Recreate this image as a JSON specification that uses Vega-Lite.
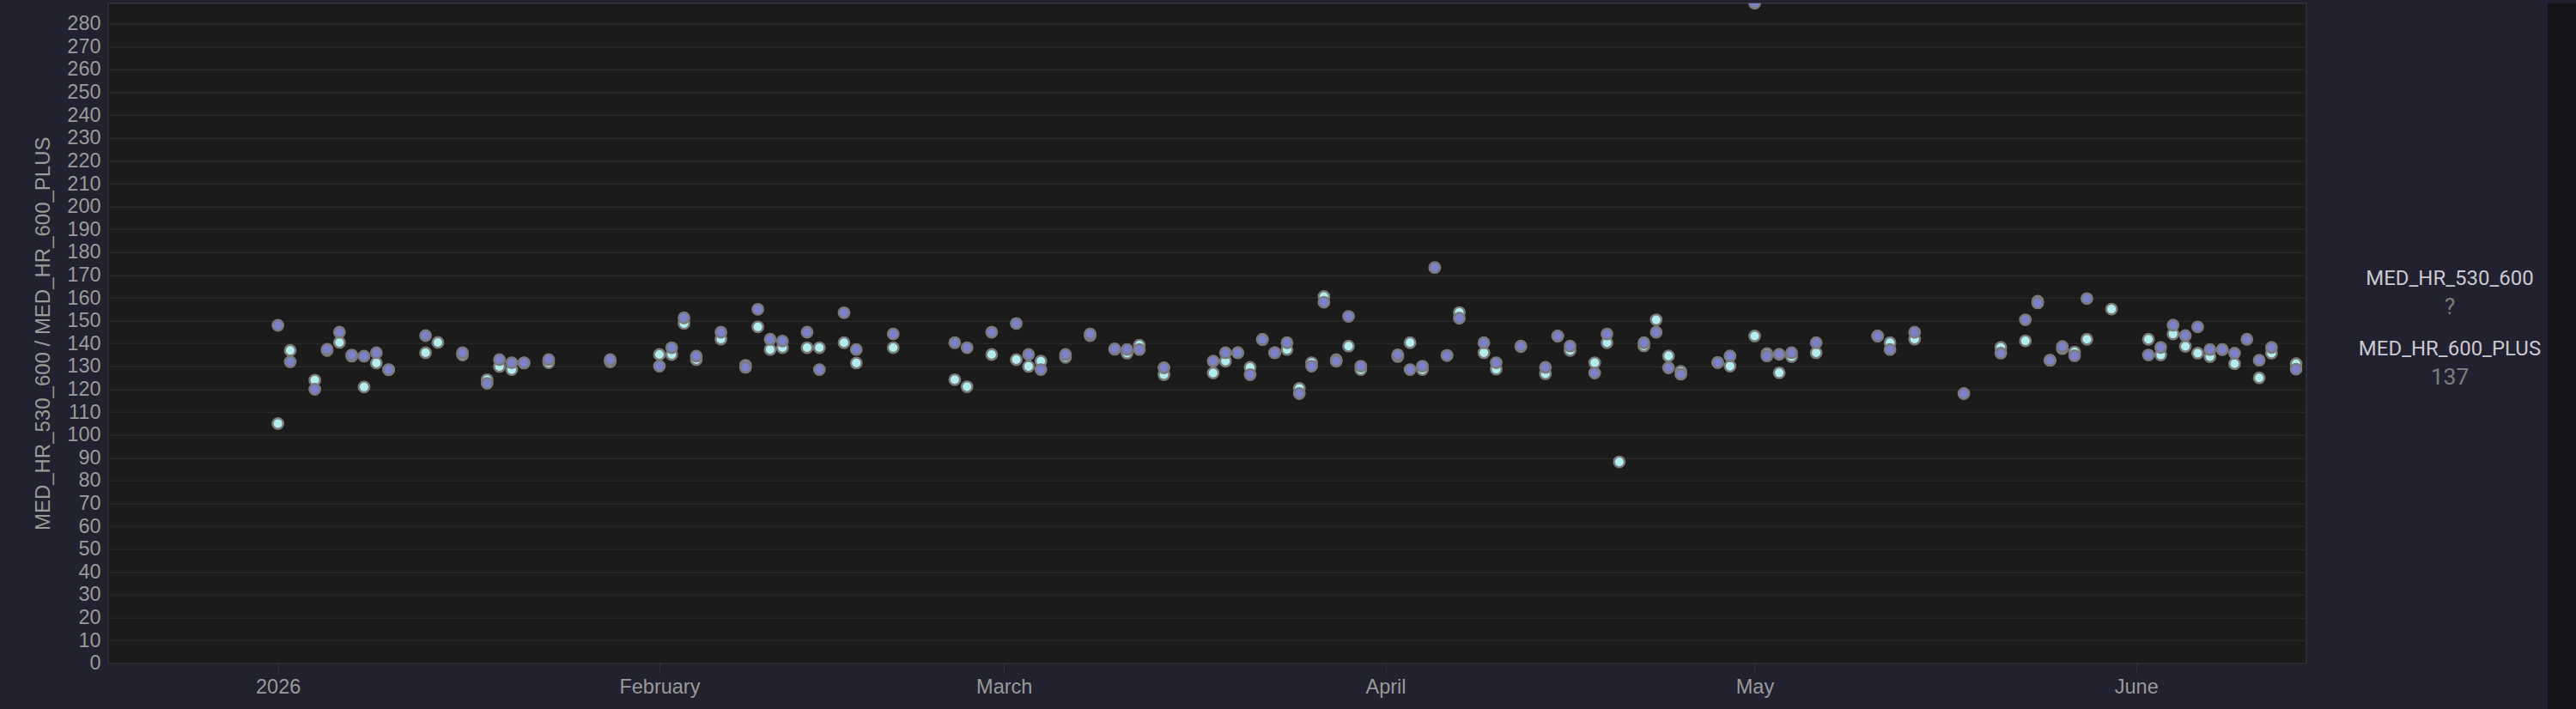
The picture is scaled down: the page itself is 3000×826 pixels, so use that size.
{
  "$schema": "https://vega.github.io/schema/vega-lite/v6.json",
  "background": "#22212f",
  "padding": {"left": 38, "top": 2.8, "right": 0, "bottom": 0},
  "autosize": {"type": "pad"},
  "spacing": 0,
  "datasets": {
    "hr": [
      {"date": "2026-01-01", "series": "MED_HR_530_600", "value": 105},
      {"date": "2026-01-02", "series": "MED_HR_530_600", "value": 137},
      {"date": "2026-01-04", "series": "MED_HR_530_600", "value": 124},
      {"date": "2026-01-05", "series": "MED_HR_530_600", "value": 137},
      {"date": "2026-01-06", "series": "MED_HR_530_600", "value": 140.5},
      {"date": "2026-01-07", "series": "MED_HR_530_600", "value": 134.5},
      {"date": "2026-01-08", "series": "MED_HR_530_600", "value": 121},
      {"date": "2026-01-09", "series": "MED_HR_530_600", "value": 131.5},
      {"date": "2026-01-10", "series": "MED_HR_530_600", "value": 128.5},
      {"date": "2026-01-13", "series": "MED_HR_530_600", "value": 136},
      {"date": "2026-01-14", "series": "MED_HR_530_600", "value": 140.5},
      {"date": "2026-01-16", "series": "MED_HR_530_600", "value": 135},
      {"date": "2026-01-18", "series": "MED_HR_530_600", "value": 124.2},
      {"date": "2026-01-19", "series": "MED_HR_530_600", "value": 130},
      {"date": "2026-01-20", "series": "MED_HR_530_600", "value": 128.6},
      {"date": "2026-01-21", "series": "MED_HR_530_600", "value": 131.5},
      {"date": "2026-01-23", "series": "MED_HR_530_600", "value": 131.6},
      {"date": "2026-01-28", "series": "MED_HR_530_600", "value": 132},
      {"date": "2026-02-01", "series": "MED_HR_530_600", "value": 135.2},
      {"date": "2026-02-02", "series": "MED_HR_530_600", "value": 135.2},
      {"date": "2026-02-03", "series": "MED_HR_530_600", "value": 148.8},
      {"date": "2026-02-04", "series": "MED_HR_530_600", "value": 133},
      {"date": "2026-02-06", "series": "MED_HR_530_600", "value": 142},
      {"date": "2026-02-08", "series": "MED_HR_530_600", "value": 130.5},
      {"date": "2026-02-09", "series": "MED_HR_530_600", "value": 147.3},
      {"date": "2026-02-10", "series": "MED_HR_530_600", "value": 137.4},
      {"date": "2026-02-11", "series": "MED_HR_530_600", "value": 138.2},
      {"date": "2026-02-13", "series": "MED_HR_530_600", "value": 138.2},
      {"date": "2026-02-14", "series": "MED_HR_530_600", "value": 138.2},
      {"date": "2026-02-16", "series": "MED_HR_530_600", "value": 140.4},
      {"date": "2026-02-17", "series": "MED_HR_530_600", "value": 131.5},
      {"date": "2026-02-20", "series": "MED_HR_530_600", "value": 138.2},
      {"date": "2026-02-25", "series": "MED_HR_530_600", "value": 124.2},
      {"date": "2026-02-26", "series": "MED_HR_530_600", "value": 121.1},
      {"date": "2026-02-28", "series": "MED_HR_530_600", "value": 135.2},
      {"date": "2026-03-02", "series": "MED_HR_530_600", "value": 133},
      {"date": "2026-03-03", "series": "MED_HR_530_600", "value": 130},
      {"date": "2026-03-04", "series": "MED_HR_530_600", "value": 132.3},
      {"date": "2026-03-06", "series": "MED_HR_530_600", "value": 134},
      {"date": "2026-03-08", "series": "MED_HR_530_600", "value": 143.5},
      {"date": "2026-03-10", "series": "MED_HR_530_600", "value": 137.5},
      {"date": "2026-03-11", "series": "MED_HR_530_600", "value": 135.8},
      {"date": "2026-03-12", "series": "MED_HR_530_600", "value": 139.3},
      {"date": "2026-03-14", "series": "MED_HR_530_600", "value": 126.4},
      {"date": "2026-03-18", "series": "MED_HR_530_600", "value": 127.1},
      {"date": "2026-03-19", "series": "MED_HR_530_600", "value": 132.3},
      {"date": "2026-03-20", "series": "MED_HR_530_600", "value": 136},
      {"date": "2026-03-21", "series": "MED_HR_530_600", "value": 129.6},
      {"date": "2026-03-22", "series": "MED_HR_530_600", "value": 141.8},
      {"date": "2026-03-23", "series": "MED_HR_530_600", "value": 136},
      {"date": "2026-03-24", "series": "MED_HR_530_600", "value": 137.4},
      {"date": "2026-03-25", "series": "MED_HR_530_600", "value": 120.4},
      {"date": "2026-03-26", "series": "MED_HR_530_600", "value": 131.6},
      {"date": "2026-03-27", "series": "MED_HR_530_600", "value": 160.6},
      {"date": "2026-03-28", "series": "MED_HR_530_600", "value": 133},
      {"date": "2026-03-29", "series": "MED_HR_530_600", "value": 138.9},
      {"date": "2026-03-30", "series": "MED_HR_530_600", "value": 128.6},
      {"date": "2026-04-02", "series": "MED_HR_530_600", "value": 134.3},
      {"date": "2026-04-03", "series": "MED_HR_530_600", "value": 140.4},
      {"date": "2026-04-04", "series": "MED_HR_530_600", "value": 128.6},
      {"date": "2026-04-06", "series": "MED_HR_530_600", "value": 134.8},
      {"date": "2026-04-07", "series": "MED_HR_530_600", "value": 153.6},
      {"date": "2026-04-09", "series": "MED_HR_530_600", "value": 136},
      {"date": "2026-04-10", "series": "MED_HR_530_600", "value": 128.8},
      {"date": "2026-04-12", "series": "MED_HR_530_600", "value": 138.7},
      {"date": "2026-04-14", "series": "MED_HR_530_600", "value": 126.8},
      {"date": "2026-04-15", "series": "MED_HR_530_600", "value": 143.3},
      {"date": "2026-04-16", "series": "MED_HR_530_600", "value": 137},
      {"date": "2026-04-18", "series": "MED_HR_530_600", "value": 131.6},
      {"date": "2026-04-19", "series": "MED_HR_530_600", "value": 140.4},
      {"date": "2026-04-20", "series": "MED_HR_530_600", "value": 88.2},
      {"date": "2026-04-22", "series": "MED_HR_530_600", "value": 139},
      {"date": "2026-04-23", "series": "MED_HR_530_600", "value": 150.4},
      {"date": "2026-04-24", "series": "MED_HR_530_600", "value": 134.6},
      {"date": "2026-04-25", "series": "MED_HR_530_600", "value": 127.8},
      {"date": "2026-04-28", "series": "MED_HR_530_600", "value": 131.7},
      {"date": "2026-04-29", "series": "MED_HR_530_600", "value": 130.1},
      {"date": "2026-05-01", "series": "MED_HR_530_600", "value": 143.3},
      {"date": "2026-05-02", "series": "MED_HR_530_600", "value": 135.6},
      {"date": "2026-05-03", "series": "MED_HR_530_600", "value": 127.2},
      {"date": "2026-05-04", "series": "MED_HR_530_600", "value": 134.3},
      {"date": "2026-05-06", "series": "MED_HR_530_600", "value": 136},
      {"date": "2026-05-11", "series": "MED_HR_530_600", "value": 143.3},
      {"date": "2026-05-12", "series": "MED_HR_530_600", "value": 140.4},
      {"date": "2026-05-14", "series": "MED_HR_530_600", "value": 142},
      {"date": "2026-05-21", "series": "MED_HR_530_600", "value": 138.3},
      {"date": "2026-05-23", "series": "MED_HR_530_600", "value": 141.2},
      {"date": "2026-05-24", "series": "MED_HR_530_600", "value": 158.5},
      {"date": "2026-05-25", "series": "MED_HR_530_600", "value": 132.7},
      {"date": "2026-05-26", "series": "MED_HR_530_600", "value": 137.8},
      {"date": "2026-05-27", "series": "MED_HR_530_600", "value": 136.3},
      {"date": "2026-05-28", "series": "MED_HR_530_600", "value": 141.9},
      {"date": "2026-05-30", "series": "MED_HR_530_600", "value": 155.1},
      {"date": "2026-06-02", "series": "MED_HR_530_600", "value": 141.9},
      {"date": "2026-06-03", "series": "MED_HR_530_600", "value": 135},
      {"date": "2026-06-04", "series": "MED_HR_530_600", "value": 144.2},
      {"date": "2026-06-05", "series": "MED_HR_530_600", "value": 138.8},
      {"date": "2026-06-06", "series": "MED_HR_530_600", "value": 135.8},
      {"date": "2026-06-07", "series": "MED_HR_530_600", "value": 134.3},
      {"date": "2026-06-08", "series": "MED_HR_530_600", "value": 137.4},
      {"date": "2026-06-09", "series": "MED_HR_530_600", "value": 131.2},
      {"date": "2026-06-11", "series": "MED_HR_530_600", "value": 125},
      {"date": "2026-06-12", "series": "MED_HR_530_600", "value": 135.8},
      {"date": "2026-06-14", "series": "MED_HR_530_600", "value": 131.2},
      {"date": "2026-01-01", "series": "MED_HR_600_PLUS", "value": 148},
      {"date": "2026-01-02", "series": "MED_HR_600_PLUS", "value": 132},
      {"date": "2026-01-04", "series": "MED_HR_600_PLUS", "value": 120},
      {"date": "2026-01-05", "series": "MED_HR_600_PLUS", "value": 137.5},
      {"date": "2026-01-06", "series": "MED_HR_600_PLUS", "value": 145},
      {"date": "2026-01-07", "series": "MED_HR_600_PLUS", "value": 135},
      {"date": "2026-01-08", "series": "MED_HR_600_PLUS", "value": 134.5},
      {"date": "2026-01-09", "series": "MED_HR_600_PLUS", "value": 136},
      {"date": "2026-01-10", "series": "MED_HR_600_PLUS", "value": 128.6},
      {"date": "2026-01-13", "series": "MED_HR_600_PLUS", "value": 143.5},
      {"date": "2026-01-16", "series": "MED_HR_600_PLUS", "value": 136},
      {"date": "2026-01-18", "series": "MED_HR_600_PLUS", "value": 122.6},
      {"date": "2026-01-19", "series": "MED_HR_600_PLUS", "value": 133},
      {"date": "2026-01-20", "series": "MED_HR_600_PLUS", "value": 131.6},
      {"date": "2026-01-21", "series": "MED_HR_600_PLUS", "value": 131.6},
      {"date": "2026-01-23", "series": "MED_HR_600_PLUS", "value": 133},
      {"date": "2026-01-28", "series": "MED_HR_600_PLUS", "value": 133},
      {"date": "2026-02-01", "series": "MED_HR_600_PLUS", "value": 130.1},
      {"date": "2026-02-02", "series": "MED_HR_600_PLUS", "value": 138.2},
      {"date": "2026-02-03", "series": "MED_HR_600_PLUS", "value": 151.3},
      {"date": "2026-02-04", "series": "MED_HR_600_PLUS", "value": 134.5},
      {"date": "2026-02-06", "series": "MED_HR_600_PLUS", "value": 145},
      {"date": "2026-02-08", "series": "MED_HR_600_PLUS", "value": 129.6},
      {"date": "2026-02-09", "series": "MED_HR_600_PLUS", "value": 155},
      {"date": "2026-02-10", "series": "MED_HR_600_PLUS", "value": 141.9},
      {"date": "2026-02-11", "series": "MED_HR_600_PLUS", "value": 141.1},
      {"date": "2026-02-13", "series": "MED_HR_600_PLUS", "value": 145},
      {"date": "2026-02-14", "series": "MED_HR_600_PLUS", "value": 128.6},
      {"date": "2026-02-16", "series": "MED_HR_600_PLUS", "value": 153.5},
      {"date": "2026-02-17", "series": "MED_HR_600_PLUS", "value": 137.4},
      {"date": "2026-02-20", "series": "MED_HR_600_PLUS", "value": 144.2},
      {"date": "2026-02-25", "series": "MED_HR_600_PLUS", "value": 140.4},
      {"date": "2026-02-26", "series": "MED_HR_600_PLUS", "value": 138.2},
      {"date": "2026-02-28", "series": "MED_HR_600_PLUS", "value": 145},
      {"date": "2026-03-02", "series": "MED_HR_600_PLUS", "value": 148.8},
      {"date": "2026-03-03", "series": "MED_HR_600_PLUS", "value": 135.2},
      {"date": "2026-03-04", "series": "MED_HR_600_PLUS", "value": 128.6},
      {"date": "2026-03-06", "series": "MED_HR_600_PLUS", "value": 135.2},
      {"date": "2026-03-08", "series": "MED_HR_600_PLUS", "value": 144.2},
      {"date": "2026-03-10", "series": "MED_HR_600_PLUS", "value": 137.7},
      {"date": "2026-03-11", "series": "MED_HR_600_PLUS", "value": 137.4},
      {"date": "2026-03-12", "series": "MED_HR_600_PLUS", "value": 137.4},
      {"date": "2026-03-14", "series": "MED_HR_600_PLUS", "value": 129.4},
      {"date": "2026-03-18", "series": "MED_HR_600_PLUS", "value": 132.3},
      {"date": "2026-03-19", "series": "MED_HR_600_PLUS", "value": 136},
      {"date": "2026-03-20", "series": "MED_HR_600_PLUS", "value": 136},
      {"date": "2026-03-21", "series": "MED_HR_600_PLUS", "value": 126.4},
      {"date": "2026-03-22", "series": "MED_HR_600_PLUS", "value": 141.8},
      {"date": "2026-03-23", "series": "MED_HR_600_PLUS", "value": 136},
      {"date": "2026-03-24", "series": "MED_HR_600_PLUS", "value": 140.4},
      {"date": "2026-03-25", "series": "MED_HR_600_PLUS", "value": 118.1},
      {"date": "2026-03-26", "series": "MED_HR_600_PLUS", "value": 130.1},
      {"date": "2026-03-27", "series": "MED_HR_600_PLUS", "value": 158.1},
      {"date": "2026-03-28", "series": "MED_HR_600_PLUS", "value": 132.3},
      {"date": "2026-03-29", "series": "MED_HR_600_PLUS", "value": 151.9},
      {"date": "2026-03-30", "series": "MED_HR_600_PLUS", "value": 130.1},
      {"date": "2026-04-02", "series": "MED_HR_600_PLUS", "value": 135.1},
      {"date": "2026-04-03", "series": "MED_HR_600_PLUS", "value": 128.6},
      {"date": "2026-04-04", "series": "MED_HR_600_PLUS", "value": 130.1},
      {"date": "2026-04-05", "series": "MED_HR_600_PLUS", "value": 173.3},
      {"date": "2026-04-06", "series": "MED_HR_600_PLUS", "value": 134.8},
      {"date": "2026-04-07", "series": "MED_HR_600_PLUS", "value": 151.1},
      {"date": "2026-04-09", "series": "MED_HR_600_PLUS", "value": 140.4},
      {"date": "2026-04-10", "series": "MED_HR_600_PLUS", "value": 131.6},
      {"date": "2026-04-12", "series": "MED_HR_600_PLUS", "value": 138.9},
      {"date": "2026-04-14", "series": "MED_HR_600_PLUS", "value": 129.6},
      {"date": "2026-04-15", "series": "MED_HR_600_PLUS", "value": 143.3},
      {"date": "2026-04-16", "series": "MED_HR_600_PLUS", "value": 138.9},
      {"date": "2026-04-18", "series": "MED_HR_600_PLUS", "value": 127.1},
      {"date": "2026-04-19", "series": "MED_HR_600_PLUS", "value": 144.2},
      {"date": "2026-04-22", "series": "MED_HR_600_PLUS", "value": 140.4},
      {"date": "2026-04-23", "series": "MED_HR_600_PLUS", "value": 145},
      {"date": "2026-04-24", "series": "MED_HR_600_PLUS", "value": 129.4},
      {"date": "2026-04-25", "series": "MED_HR_600_PLUS", "value": 126.6},
      {"date": "2026-04-28", "series": "MED_HR_600_PLUS", "value": 131.7},
      {"date": "2026-04-29", "series": "MED_HR_600_PLUS", "value": 134.6},
      {"date": "2026-05-01", "series": "MED_HR_600_PLUS", "value": 289},
      {"date": "2026-05-02", "series": "MED_HR_600_PLUS", "value": 134.6},
      {"date": "2026-05-03", "series": "MED_HR_600_PLUS", "value": 135.3},
      {"date": "2026-05-04", "series": "MED_HR_600_PLUS", "value": 136},
      {"date": "2026-05-06", "series": "MED_HR_600_PLUS", "value": 140.4},
      {"date": "2026-05-11", "series": "MED_HR_600_PLUS", "value": 143.3},
      {"date": "2026-05-12", "series": "MED_HR_600_PLUS", "value": 137.4},
      {"date": "2026-05-14", "series": "MED_HR_600_PLUS", "value": 145},
      {"date": "2026-05-18", "series": "MED_HR_600_PLUS", "value": 118.1},
      {"date": "2026-05-21", "series": "MED_HR_600_PLUS", "value": 135.8},
      {"date": "2026-05-23", "series": "MED_HR_600_PLUS", "value": 150.4},
      {"date": "2026-05-24", "series": "MED_HR_600_PLUS", "value": 157.8},
      {"date": "2026-05-25", "series": "MED_HR_600_PLUS", "value": 132.7},
      {"date": "2026-05-26", "series": "MED_HR_600_PLUS", "value": 138.7},
      {"date": "2026-05-27", "series": "MED_HR_600_PLUS", "value": 134.7},
      {"date": "2026-05-28", "series": "MED_HR_600_PLUS", "value": 159.7},
      {"date": "2026-06-02", "series": "MED_HR_600_PLUS", "value": 135},
      {"date": "2026-06-03", "series": "MED_HR_600_PLUS", "value": 138.3},
      {"date": "2026-06-04", "series": "MED_HR_600_PLUS", "value": 148.1},
      {"date": "2026-06-05", "series": "MED_HR_600_PLUS", "value": 143.5},
      {"date": "2026-06-06", "series": "MED_HR_600_PLUS", "value": 147.3},
      {"date": "2026-06-07", "series": "MED_HR_600_PLUS", "value": 137.4},
      {"date": "2026-06-08", "series": "MED_HR_600_PLUS", "value": 137.4},
      {"date": "2026-06-09", "series": "MED_HR_600_PLUS", "value": 135.8},
      {"date": "2026-06-10", "series": "MED_HR_600_PLUS", "value": 141.9},
      {"date": "2026-06-11", "series": "MED_HR_600_PLUS", "value": 132.7},
      {"date": "2026-06-12", "series": "MED_HR_600_PLUS", "value": 138.3},
      {"date": "2026-06-14", "series": "MED_HR_600_PLUS", "value": 128.8}
    ],
    "legendRows": [
      {"series": "MED_HR_530_600", "latest": "?"},
      {"series": "MED_HR_600_PLUS", "latest": "137"}
    ],
    "strip": [{"k": ""}]
  },
  "hconcat": [
    {
      "width": 2560,
      "height": 769,
      "data": {"name": "hr"},
      "view": {"fill": "#1b1b1b", "stroke": "#34333d", "strokeWidth": 1.5},
      "mark": {"type": "point", "filled": true, "size": 155, "stroke": "#7a7a7a", "strokeWidth": 2.4, "opacity": 1, "clip": true},
      "encoding": {
        "x": {
          "field": "date",
          "type": "temporal",
          "scale": {
            "type": "utc",
            "domain": [
              {"year": 2025, "month": 12, "date": 18, "hours": 5, "utc": true},
              {"year": 2026, "month": 6, "date": 14, "hours": 20, "utc": true}
            ]
          },
          "axis": {
            "title": null,
            "grid": false,
            "domain": false,
            "tickCount": {"interval": "month", "step": 1},
            "ticks": true,
            "tickSize": 12,
            "tickColor": "#302f3c",
            "tickWidth": 1,
            "labelFont": "Liberation Sans",
            "labelFontSize": 23.5,
            "labelColor": "#9a9a9a",
            "labelPadding": 4,
            "labelFlush": false
          }
        },
        "y": {
          "field": "value",
          "type": "quantitative",
          "scale": {"domain": [0, 289], "nice": false},
          "axis": {
            "title": "MED_HR_530_600 / MED_HR_600_PLUS",
            "titleFont": "Liberation Sans",
            "titleFontSize": 24,
            "titleFontWeight": "normal",
            "titleColor": "#9a9a9a",
            "titlePadding": 15,
            "values": [0, 10, 20, 30, 40, 50, 60, 70, 80, 90, 100, 110, 120, 130, 140, 150, 160, 170, 180, 190, 200, 210, 220, 230, 240, 250, 260, 270, 280],
            "grid": true,
            "gridColor": "#272727",
            "gridWidth": 1.5,
            "ticks": false,
            "domain": false,
            "labelFont": "Liberation Sans",
            "labelFontSize": 23.5,
            "labelColor": "#9a9a9a",
            "labelPadding": 9
          }
        },
        "color": {
          "field": "series",
          "type": "nominal",
          "scale": {"domain": ["MED_HR_530_600", "MED_HR_600_PLUS"], "range": ["#b3eded", "#7b82c9"]},
          "legend": null
        }
      }
    },
    {
      "width": 280,
      "height": 769,
      "data": {"name": "legendRows"},
      "view": {"fill": null, "stroke": null},
      "encoding": {
        "y": {
          "field": "series",
          "type": "nominal",
          "sort": null,
          "scale": {"type": "point", "range": [338, 420], "padding": 0},
          "axis": null
        }
      },
      "layer": [
        {
          "mark": {"type": "text", "font": "Roboto", "fontSize": 24, "color": "#c9c9cf", "baseline": "middle", "align": "center", "dy": -16.5, "dx": 26},
          "encoding": {"text": {"field": "series"}}
        },
        {
          "mark": {"type": "text", "font": "Roboto", "fontSize": 26.5, "color": "#7c7c7c", "baseline": "middle", "align": "center", "dy": 16.5, "dx": 26},
          "encoding": {"text": {"field": "latest"}}
        }
      ]
    },
    {
      "width": 34,
      "height": 823.2,
      "data": {"name": "strip"},
      "view": {"fill": "#141318", "stroke": null},
      "mark": {"type": "text"},
      "encoding": {"text": {"field": "k"}}
    }
  ]
}
